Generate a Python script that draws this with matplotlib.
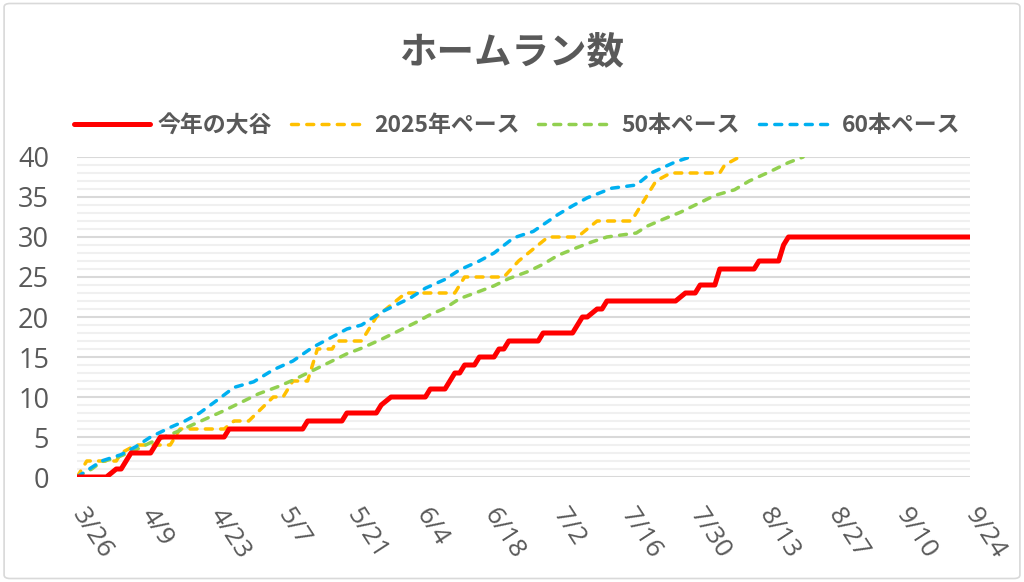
import matplotlib
matplotlib.use('Agg')
import matplotlib.pyplot as plt
from matplotlib.patches import FancyBboxPatch
from matplotlib.ticker import MultipleLocator

plt.rcParams['font.family'] = ['Noto Sans CJK JP', 'DejaVu Sans']

# ---------------- data ----------------
title = 'ホームラン数'
series_names = ['今年の大谷', '2025年ペース', '50本ペース', '60本ペース']

# x axis: days since 3/26
tick_days = [0, 14, 28, 42, 56, 70, 84, 98, 112, 126, 140, 154, 168, 182]
tick_labels = ['3/26', '4/9', '4/23', '5/7', '5/21', '6/4', '6/18', '7/2',
               '7/16', '7/30', '8/13', '8/27', '9/10', '9/24']

ohtani_days = [0, 6, 8, 9, 10, 11, 15, 16, 17, 30, 31, 46, 47, 54, 55, 61, 62, 64,
               71, 72, 75, 77, 78, 79, 81, 82, 85, 86, 87, 88, 94, 95, 101, 103,
               104, 106, 107, 108, 122, 124, 126, 127, 130, 131, 138, 139, 143,
               144, 145, 182]
ohtani_hr = [0, 0, 1, 1, 2, 3, 3, 4, 5, 5, 6, 6, 7, 7, 8, 8, 9, 10,
             10, 11, 11, 13, 13, 14, 14, 15, 15, 16, 16, 17, 17, 18, 18, 20,
             20, 21, 21, 22, 22, 23, 23, 24, 24, 26, 26, 27, 27,
             29, 30, 30]

pace2025_days = [0, 2, 8, 9, 12, 19, 21, 30, 32, 35, 40, 42, 44, 47, 49, 52, 53,
                 58, 61, 63, 65, 67, 77, 79, 87, 90, 94, 96, 102, 104, 106, 113,
                 114, 116, 118, 121, 131, 132, 135]
pace2025_hr = [0, 2, 2, 3, 4, 4, 6, 6, 7, 7, 10, 10, 12, 12, 16, 16, 17,
               17, 20, 21, 22, 23, 23, 25, 25, 27, 29, 30, 30, 31, 32, 32,
               33, 35, 37, 38, 38, 39, 40]

pace50_days = [0, 3, 5, 8, 12, 15, 19, 22, 26, 30, 33, 37, 41, 44, 47, 51, 55, 58,
               62, 65, 69, 72, 75, 78, 82, 85, 88, 92, 95, 98, 102, 105, 108,
               114, 116, 119, 123, 127, 130, 134, 137, 141, 145, 148]
pace50_hr = [0, 1.0, 1.9, 2.4, 3.4, 4.3, 5.3, 6.1, 7.2, 8.3, 9.2, 10.4, 11.3, 12.1,
             13.0, 14.2, 15.4, 16.1, 17.2, 18.1, 19.3, 20.3, 21.1, 22.3, 23.2,
             23.9, 24.8, 25.7, 26.6, 27.7, 28.7, 29.4, 30.0, 30.5, 31.3, 32.1,
             33.1, 34.3, 35.2, 35.9, 37.0, 38.1, 39.3, 40.0]

pace60_days = [0, 3, 5, 9, 12, 15, 19, 22, 25, 29, 32, 36, 40, 44, 48, 52, 55, 58,
               62, 64, 68, 71, 75, 78, 82, 85, 89, 93, 98, 101, 104, 109, 114,
               117, 122, 125]
pace60_hr = [0, 1.2, 2.0, 2.8, 3.8, 5.0, 6.2, 7.0, 8.0, 9.8, 11.2, 11.9, 13.4,
             14.5, 16.2, 17.5, 18.5, 19.0, 20.6, 21.2, 22.4, 23.6, 24.7, 25.9,
             27.0, 28.0, 29.9, 30.7, 32.8, 33.9, 34.9, 36.1, 36.5, 38.0, 39.4, 40.0]

# ---------------- style ----------------
TEXT = '#595959'
colors = ['#FF0000', '#FFC000', '#92D050', '#00B0F0']

fig = plt.figure(figsize=(10.24, 5.82), dpi=100)
ax = fig.add_axes([77 / 1024, 105 / 582, 893 / 1024, 320 / 582])

# border around whole chart
fig.patches.append(FancyBboxPatch((0.004, 0.006), 0.992, 0.988,
                                  boxstyle='round,pad=0,rounding_size=0.006',
                                  transform=fig.transFigure, fill=False,
                                  edgecolor='#d9d9d9', linewidth=1.2))

ax.set_xlim(tick_days[0], tick_days[-1])
ax.set_ylim(0, 40)
ax.yaxis.set_major_locator(MultipleLocator(5))
ax.yaxis.set_minor_locator(MultipleLocator(1))
ax.set_xticks(tick_days)
ax.set_xticklabels(tick_labels)

ax.grid(axis='y', which='major', color='#d9d9d9', linewidth=1.5)
ax.grid(axis='y', which='minor', color='#f0f0f0', linewidth=1.5)
ax.set_axisbelow(True)
for s in ax.spines.values():
    s.set_visible(False)

ax.tick_params(axis='both', which='both', length=0, colors=TEXT,
               labelfontfamily='Open Sans')
ax.tick_params(axis='y', labelsize=19.5, pad=20)
ax.tick_params(axis='x', labelsize=19, pad=24)
for lab in ax.get_xticklabels():
    lab.set_rotation(-57)
    lab.set_rotation_mode('anchor')
    lab.set_ha('left')
    lab.set_va('center')

l1, = ax.plot(ohtani_days, ohtani_hr, color=colors[0], lw=3.6,
              solid_joinstyle='round', solid_capstyle='round', zorder=5)
handles = [l1]
for d, v, c in [(pace2025_days, pace2025_hr, colors[1]),
                (pace50_days, pace50_hr, colors[2]),
                (pace60_days, pace60_hr, colors[3])]:
    ln, = ax.plot(d, v, color=c, lw=2.5, dashes=(2.0, 2.4),
                  dash_capstyle='round', dash_joinstyle='round', zorder=4)
    handles.append(ln)

fig.text(0.5, 0.911, title, ha='center', va='center', fontsize=27,
         fontweight='bold', color=TEXT)

leg = fig.legend(handles, series_names, loc='center',
                 bbox_to_anchor=(0.5054, 0.785), ncol=4, frameon=False,
                 handlelength=3.3, handletextpad=0.35, columnspacing=0.8,
                 prop={'size': 16.5, 'weight': 'bold'})
for t in leg.get_texts():
    t.set_color(TEXT)

fig.savefig('out.png', dpi=100)
